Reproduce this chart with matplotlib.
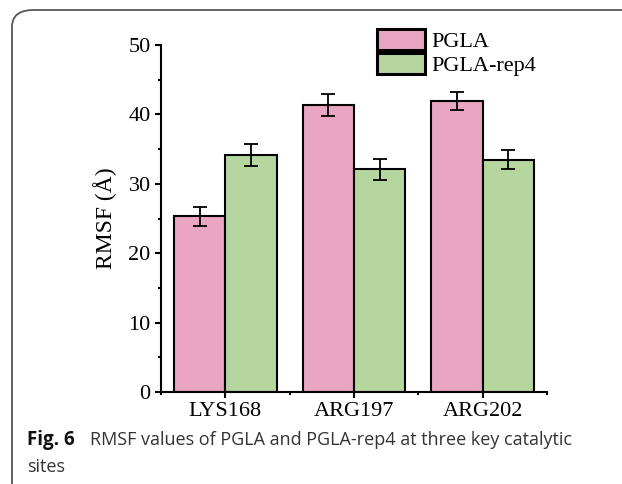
import matplotlib
matplotlib.use('Agg')
import matplotlib.pyplot as plt
from matplotlib.patches import FancyBboxPatch
import numpy as np

# Datos
sites = ['LYS168', 'ARG197', 'ARG202']
pgla = [25.3, 41.4, 41.9]
pgla_err = [1.4, 1.6, 1.3]
rep4 = [34.1, 32.1, 33.5]
rep4_err = [1.6, 1.5, 1.4]
series_names = ['PGLA', 'PGLA-rep4']

caption_bold = 'Fig. 6'
caption_lines = ['RMSF values of PGLA and PGLA-rep4 at three key catalytic', 'sites']

# Estilos
COLOR_PINK = '#E9A6C3'
COLOR_GREEN = '#B6D6A0'
W, H = 622, 484

plt.rcParams['font.family'] = ['Liberation Serif', 'DejaVu Serif']
plt.rcParams['font.size'] = 16

fig = plt.figure(figsize=(W / 100, H / 100), dpi=100)
ax = fig.add_axes([161 / W, 1 - 392 / H, (547 - 161) / W, (392 - 45) / H])

x = np.arange(1, len(sites) + 1)
bw = 0.4
err_kw = dict(elinewidth=1.3, capthick=1.3, ecolor='black')
ax.bar(x - bw / 2, pgla, bw, yerr=pgla_err, capsize=5, color=COLOR_PINK,
       edgecolor='black', linewidth=1.5, label=series_names[0], error_kw=err_kw)
ax.bar(x + bw / 2, rep4, bw, yerr=rep4_err, capsize=5, color=COLOR_GREEN,
       edgecolor='black', linewidth=1.5, label=series_names[1], error_kw=err_kw)

ax.set_xlim(0.5, 3.5)
ax.set_ylim(0, 50)
ax.set_xticks(x)
ax.set_xticklabels(sites)
ax.set_xticks([0.5, 1.5, 2.5, 3.5], minor=True)
ax.set_yticks(range(0, 51, 10))
ax.set_yticks(range(5, 50, 10), minor=True)
ax.set_ylabel('RMSF (Å)', labelpad=8, fontsize=17)

for s in ['top', 'right']:
    ax.spines[s].set_visible(False)
for s in ['left', 'bottom']:
    ax.spines[s].set_linewidth(1.5)
ax.tick_params(which='major', length=4.5, width=1.5, direction='out', pad=3)
ax.tick_params(which='minor', length=2.5, width=1.5, direction='out')

leg = ax.legend(loc='upper left', bbox_to_anchor=(377 / W, 1 - 29 / H),
                bbox_transform=fig.transFigure, frameon=False, borderpad=0,
                borderaxespad=0, handlelength=2.15, handleheight=1.05,
                labelspacing=0.05, handletextpad=0.3)
for p in leg.get_patches():
    p.set_linewidth(2.2)

# Marco redondeado de la figura
frame = FancyBboxPatch((12 / W, -0.2), 1.2, (1 - 10 / H) + 0.2,
                       boxstyle='round,pad=0,rounding_size=0.035',
                       transform=fig.transFigure, facecolor='none',
                       edgecolor='#555555', linewidth=1.3, clip_on=False)
fig.add_artist(frame)

# Pie de figura
cap_font = ['Open Sans', 'DejaVu Sans']
fig.text(27 / W, 1 - 440 / H, caption_bold, family=cap_font, fontweight='bold',
         fontsize=13.5, va='center', ha='left', color='#111111')
fig.text(90 / W, 1 - 440 / H, caption_lines[0], family=cap_font,
         fontsize=13, va='center', ha='left', color='#333333')
fig.text(27 / W, 1 - 467 / H, caption_lines[1], family=cap_font,
         fontsize=13, va='center', ha='left', color='#333333')

fig.savefig('out.png', dpi=100)
